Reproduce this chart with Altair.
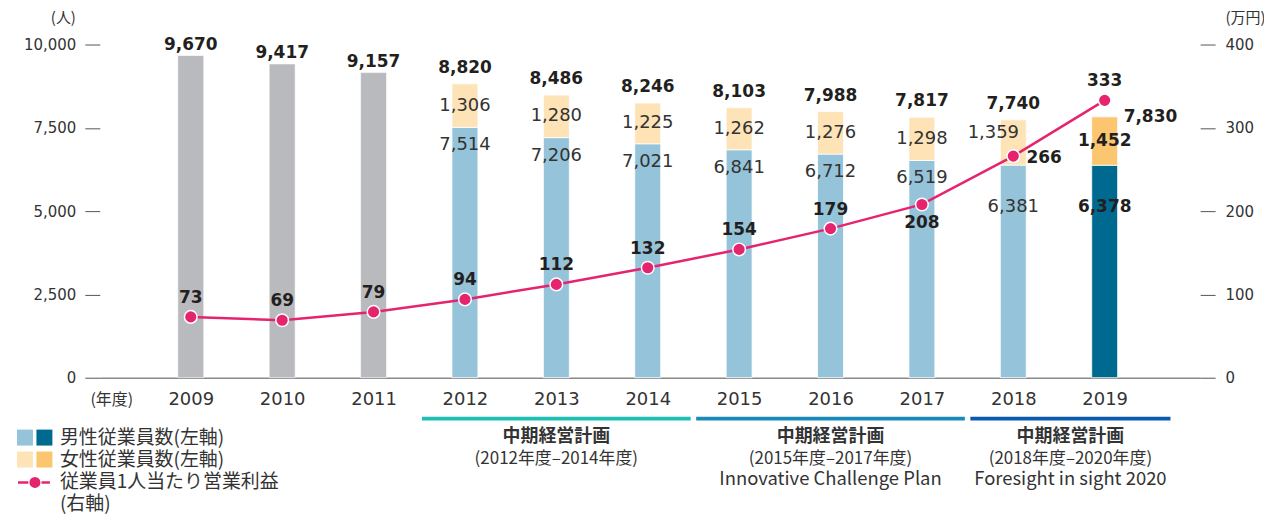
import altair as alt
import pandas as pd

# ---------------- data ----------------
years = [2009, 2010, 2011, 2012, 2013, 2014, 2015, 2016, 2017, 2018, 2019]
total = [9670, 9417, 9157, 8820, 8486, 8246, 8103, 7988, 7817, 7740, 7830]
male = [None, None, None, 7514, 7206, 7021, 6841, 6712, 6519, 6381, 6378]
female = [None, None, None, 1306, 1280, 1225, 1262, 1276, 1298, 1359, 1452]
profit = [73, 69, 79, 94, 112, 132, 154, 179, 208, 266, 333]

plan_start = [2012, 2015, 2018]
plan_end = [2014, 2017, 2020]
plan_title = ["中期経営計画", "中期経営計画", "中期経営計画"]
plan_period = ["(2012年度–2014年度)", "(2015年度–2017年度)", "(2018年度–2020年度)"]
plan_name = ["", "Innovative Challenge Plan", "Foresight in sight 2020"]

legend_labels = ["男性従業員数(左軸)", "女性従業員数(左軸)", "従業員1人当たり営業利益", "(右軸)"]
left_ticks = [0, 2500, 5000, 7500, 10000]
right_ticks = [0, 100, 200, 300, 400]

# ---------------- style ----------------
NUM = "DejaVu Sans"
JP = "Noto Sans CJK JP"
DARK = "#231f20"
TXT = "#333333"
GRAY_BAR = "#b9babe"
MALE_C = "#94c3da"
MALE_HI = "#00698f"
FEM_C = "#fde3b6"
FEM_HI = "#fbc66f"
PINK = "#e6246e"
PLAN_COLORS = ["#1fbfb5", "#1a8bb8", "#0a5bab"]

df = pd.DataFrame({"year": years, "total": total, "male": male,
                   "female": female, "profit": profit})
plans = pd.DataFrame({"start": plan_start, "end": plan_end, "title": plan_title,
                      "period": plan_period, "name": plan_name})
one = pd.DataFrame({"k": [0]})

xscale = alt.Scale(domain=[2008.059, 2019.99], nice=False, zero=False)
yL = alt.Scale(domain=[0, 10000], nice=False)
yR = alt.Scale(domain=[0, 400], nice=False)

x_axis = alt.Axis(values=years, format="d", ticks=False, domain=True,
                  domainColor="#8a8a8a", domainWidth=1.5, grid=False,
                  labelFont=NUM, labelFontSize=18, labelColor=TXT,
                  labelPadding=22, labelBaseline="middle", labelFlush=False,
                  labelOverlap=False, title=None)
left_axis = alt.Axis(orient="left", values=left_ticks, format=",.0f", ticks=True,
                     tickSize=15, tickColor="#555", tickWidth=1, domain=False,
                     grid=False, labelFont=NUM, labelFontSize=15, labelColor=TXT,
                     labelPadding=9, title="(人)", titleAngle=0, titleX=-37,
                     titleY=-27, titleAlign="center", titleBaseline="middle",
                     titleFont=JP, titleFontSize=15, titleFontWeight="normal",
                     titleColor=TXT)
right_axis = alt.Axis(orient="right", values=right_ticks, format="d", ticks=True,
                      tickSize=15, tickColor="#555", tickWidth=1, domain=False,
                      grid=False, labelFont=NUM, labelFontSize=15, labelColor=TXT,
                      labelPadding=10, title="(万円)", titleAngle=0, titleX=45,
                      titleY=-27, titleAlign="center", titleBaseline="middle",
                      titleFont=JP, titleFontSize=15, titleFontWeight="normal",
                      titleColor=TXT)


def X(field="year:Q"):
    return alt.X(field, scale=xscale, axis=x_axis)


def YL(field):
    return alt.Y(field, scale=yL, axis=left_axis)


def YR(field):
    return alt.Y(field, scale=yR, axis=right_axis)


base = alt.Chart(df).transform_calculate(fmid="datum.male + datum.female / 2")

# ---------------- bars ----------------
gray = base.transform_filter("datum.year <= 2011").mark_bar(
    size=26, color=GRAY_BAR, stroke="white", strokeWidth=0.6).encode(
    x=X(), y=YL("total:Q"))
male_b = base.transform_filter("datum.year >= 2012").mark_bar(
    size=26, stroke="white", strokeWidth=0.8).encode(
    x=X(), y=YL("male:Q"),
    color=alt.condition("datum.year == 2019", alt.value(MALE_HI), alt.value(MALE_C)))
fem_b = base.transform_filter("datum.year >= 2012").mark_bar(
    size=26, stroke="white", strokeWidth=0.8).encode(
    x=X(), y=YL("total:Q"), y2=alt.Y2("male:Q"),
    color=alt.condition("datum.year == 2019", alt.value(FEM_HI), alt.value(FEM_C)))


def txt(flt, yfield, textfield, dx=0, dy=0, bold=False, size=18,
        color=TXT, align="center"):
    return base.transform_filter(flt).mark_text(
        font=NUM, fontSize=size, fontWeight="bold" if bold else "normal",
        color=color, align=align, baseline="middle", dx=dx, dy=dy).encode(
        x=X(), y=YL(yfield), text=alt.Text(textfield, format=","))


tot1 = txt("datum.year <= 2011", "total:Q", "total:Q", dy=-11, bold=True, size=17, color=DARK)
tot2 = txt("datum.year >= 2012 && datum.year <= 2018", "total:Q", "total:Q", dy=-16, bold=True, size=17, color=DARK)
tot3 = txt("datum.year == 2019", "total:Q", "total:Q", dx=19, dy=0, bold=True, size=17, color=DARK, align="left")
fem1 = txt("datum.year >= 2012 && datum.year <= 2017", "fmid:Q", "female:Q")
fem2 = txt("datum.year == 2018", "fmid:Q", "female:Q", dx=-20, dy=-9)
fem3 = txt("datum.year == 2019", "fmid:Q", "female:Q", bold=True, size=17, color=DARK)
mal1 = txt("datum.year >= 2012 && datum.year <= 2017", "male:Q", "male:Q", dy=18)
mal2 = txt("datum.year == 2018", "male:Q", "male:Q", dy=42)
mal3 = txt("datum.year == 2019", "male:Q", "male:Q", dy=42, bold=True, size=17, color=DARK)

# ---------------- plan annotations ----------------
pbase = alt.Chart(plans).transform_calculate(
    x0="datum.start - 0.47", x1="min(datum.end + 0.47, 2019.72)").transform_calculate(
    mid="(datum.x0 + datum.x1) / 2")
plan_rule = pbase.mark_rule(strokeWidth=4, strokeCap="butt").encode(
    x=X("x0:Q"), x2="x1:Q", y=alt.value(375),
    color=alt.Color("start:O", scale=alt.Scale(domain=plan_start, range=PLAN_COLORS), legend=None))
plan_t1 = pbase.mark_text(font=JP, fontSize=18, fontWeight="bold", color=TXT,
                          baseline="middle").encode(
    x=X("mid:Q"), y=alt.value(393), text="title:N")
plan_t2 = pbase.mark_text(font=JP, fontSize=17, color=TXT, baseline="middle").encode(
    x=X("mid:Q"), y=alt.value(415), text="period:N")
plan_t3 = pbase.mark_text(font=JP, fontSize=18.5, color=TXT, baseline="middle").encode(
    x=X("mid:Q"), y=alt.value(436), text="name:N")

year_unit = alt.Chart(one).mark_text(text="(年度)", font=JP, fontSize=16, color=TXT,
                                     baseline="middle").encode(
    x=alt.value(12), y=alt.value(356))


# ---------------- legend ----------------
def sq(xv, yv, c):
    return alt.Chart(one).mark_square(size=256, color=c, opacity=1, filled=True).encode(
        x=alt.value(xv), y=alt.value(yv))


def ltext(label, yv):
    return alt.Chart(one).mark_text(text=label, font=JP, fontSize=19, color=TXT,
                                    align="left", baseline="middle").encode(
        x=alt.value(-40), y=alt.value(yv))


leg = [
    sq(-75, 394, MALE_C), sq(-55.5, 394, MALE_HI),
    sq(-75, 416, FEM_C), sq(-55.5, 416, FEM_HI),
    alt.Chart(one).mark_rule(color=PINK, strokeWidth=2.5).encode(
        x=alt.value(-82), x2=alt.value(-50), y=alt.value(439)),
    alt.Chart(one).mark_point(filled=True, size=150, color=PINK, stroke="white",
                              strokeWidth=1.2, opacity=1, shape="circle").encode(
        x=alt.value(-65), y=alt.value(439)),
    ltext(legend_labels[0], 394), ltext(legend_labels[1], 416),
    ltext(legend_labels[2], 439), ltext(legend_labels[3], 461),
]

# ---------------- line ----------------
pline = alt.Chart(df).mark_line(color=PINK, strokeWidth=2.5).encode(
    x=X(), y=YR("profit:Q"))
ppts = alt.Chart(df).mark_point(filled=True, size=160, color=PINK, stroke="white",
                                strokeWidth=1.5, opacity=1, shape="circle").encode(
    x=X(), y=YR("profit:Q"))


def ptxt(flt, dx=0, dy=0):
    return alt.Chart(df).transform_filter(flt).mark_text(
        font=NUM, fontSize=17, fontWeight="bold", color=DARK, align="center",
        baseline="middle", dx=dx, dy=dy).encode(
        x=X(), y=YR("profit:Q"), text="profit:Q")


pl1 = ptxt("datum.year <= 2016 || datum.year == 2019", dy=-19)
pl2 = ptxt("datum.year == 2017", dy=19)
pl3 = ptxt("datum.year == 2018", dx=31, dy=2)

left = alt.layer(gray, male_b, fem_b, tot1, tot2, tot3, fem1, fem2, fem3,
                 mal1, mal2, mal3, plan_rule, plan_t1, plan_t2, plan_t3,
                 year_unit, *leg)
right = alt.layer(pline, ppts, pl1, pl2, pl3)

chart = alt.layer(left, right).resolve_scale(y="independent").properties(
    width=1103, height=334,
    autosize=alt.AutoSizeParams(type="none"),
    padding={"left": 92, "top": 36, "right": 64, "bottom": 136},
).configure_view(stroke=None)

chart.save("out.html", embed_options={"renderer": "svg", "actions": False})
